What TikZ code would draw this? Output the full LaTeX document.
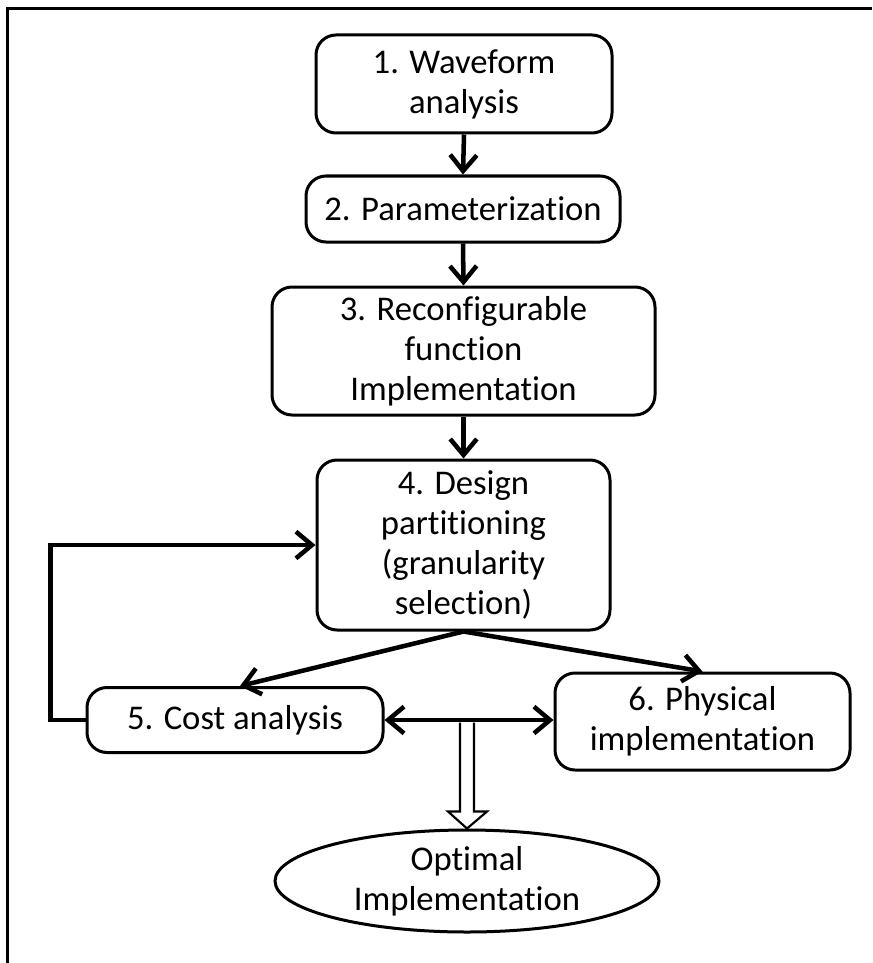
\documentclass[tikz,border=0pt]{standalone}
\usepackage{fontspec}
\setmainfont{Carlito}[Ligatures={NoCommon,NoRare,NoContextual}]
\usetikzlibrary{arrows.meta,shapes.geometric,calc}
\begin{document}
\begin{tikzpicture}[x=0.75pt,y=-0.75pt,
  txt/.style={align=center, inner sep=0pt, font=\fontsize{26}{30}\selectfont},
  stepbox/.style={txt, draw, line width=2.25pt, rounded corners=15pt},
  goal/.style={txt, draw, ellipse, line width=2.25pt},
  tip/.tip={Straight Barb[length=12pt,width=20pt]},
  flow/.style={line width=3.4pt, -tip},
  both/.style={line width=3.4pt, tip-tip},
  hollow/.style={line width=1.6pt, fill=white, line join=miter},
  frame/.style={line width=2.25pt, draw=black}]
\useasboundingbox (0,0) rectangle (872,963);

% outer frame (top and left edges)
\draw[frame] (7,963) -- (7,9) -- (872,9);

% process steps
\node[stepbox, minimum width=222pt, minimum height=73.5pt] (b1) at (464,84) {1. Waveform\\analysis};
\node[stepbox, minimum width=235.5pt, minimum height=49.5pt] (b2) at (463,209) {2. Parameterization};
\node[stepbox, minimum width=287.25pt, minimum height=96pt] (b3) at (463.5,351) {3. Reconfigurable\\function\\Implementation};
\node[stepbox, minimum width=219.75pt, minimum height=127.5pt] (b4) at (463.5,545) {4. Design\\partitioning\\(granularity\\selection)};
\node[stepbox, minimum width=222pt, minimum height=48.75pt] (b5) at (235,720) {5. Cost analysis};
\node[stepbox, minimum width=221.25pt, minimum height=72.75pt] (b6) at (702.5,721.5) {6. Physical\\implementation};
\node[goal, minimum width=288pt, minimum height=76.5pt] (ell) at (467,881) {Optimal\\Implementation};

% connectors
\draw[flow] (b1.south) -- (b2.north);
\draw[flow] (b2.south) -- (b3.north);
\draw[flow] (b3.south) -- (b4.north);
\draw[flow] (b4.south) -- ($(b5.north)+(5,0)$);
\draw[flow] (b4.south) -- (b6.north);
\draw[both] (b5.east) -- (b5.east -| b6.west);
\draw[flow] (b5.west) -- ++(-35,0) |- (b4.west);

% hollow arrow to the result
\draw[hollow] ($(ell.north)+(-7,-106)$) -- ($(ell.north)+(-7,-17)$)
  -- ($(ell.north)+(-19,-17)$) -- (ell.north) -- ($(ell.north)+(20,-17)$)
  -- ($(ell.north)+(7,-17)$) -- ($(ell.north)+(7,-106)$);
\end{tikzpicture}
\end{document}
